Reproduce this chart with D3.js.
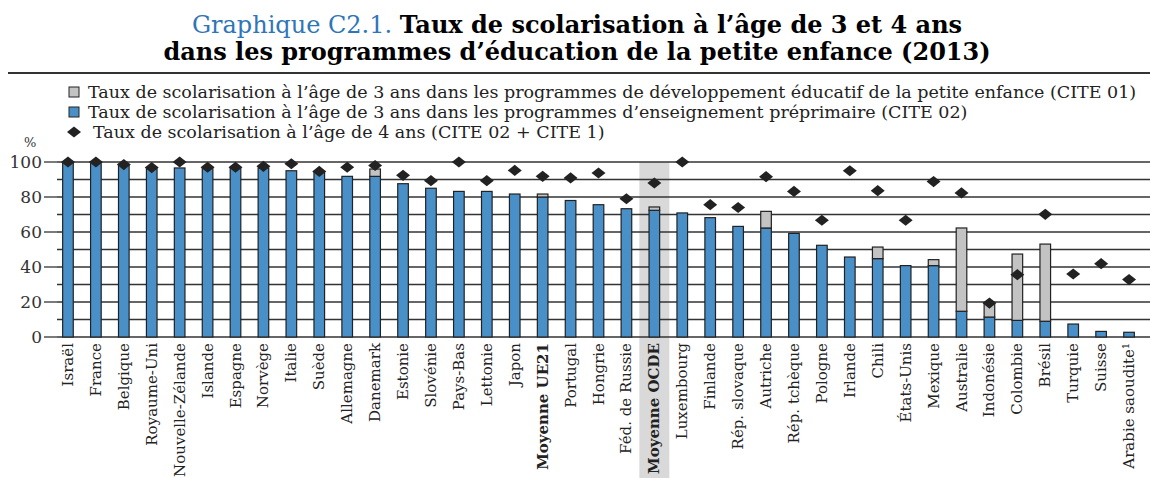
<!DOCTYPE html>
<html>
<head>
<meta charset="utf-8">
<script src="https://cdn.jsdelivr.net/npm/d3@7"></script>
<style>
  body { margin: 0; background: #fff; }
  svg { display: block; font-family: "DejaVu Serif", serif; }
</style>
</head>
<body>
<svg id="chart"></svg>
<script>
// values
const countries = ['Israël', 'France', 'Belgique', 'Royaume-Uni', 'Nouvelle-Zélande', 'Islande', 'Espagne', 'Norvège',
  'Italie', 'Suède', 'Allemagne', 'Danemark', 'Estonie', 'Slovénie', 'Pays-Bas', 'Lettonie', 'Japon', 'Moyenne UE21',
  'Portugal', 'Hongrie', 'Féd. de Russie', 'Moyenne OCDE', 'Luxembourg', 'Finlande', 'Rép. slovaque', 'Autriche',
  'Rép. tchèque', 'Pologne', 'Irlande', 'Chili', 'États-Unis', 'Mexique', 'Australie', 'Indonésie', 'Colombie',
  'Brésil', 'Turquie', 'Suisse', 'Arabie saoudite¹'];
// age 3, CITE 02 (blue)
const cite02 = [100, 100, 98.5, 96.2, 96.6, 96.6, 96.6, 96.6, 95, 94.6, 91.8, 91.8, 87.6, 85, 83.2, 83.2, 81.7, 80,
  78, 75.6, 73.3, 72.4, 70.9, 68.2, 63.2, 62.3, 59.2, 52.4, 45.7, 44.8, 40.8, 40.8, 14.7, 11.4, 9.5,
  9, 7.4, 3.2, 2.7];
// age 3, CITE 01 (grey, stacked on top)
const cite01 = [0, 0, 0, 0, 0, 0, 0, 0, 0, 0, 0, 4.2, 0, 0, 0, 0, 0, 1.7,
  0, 0, 0, 1.9, 0, 0, 0, 9.5, 0, 0, 0, 6.6, 0, 3.4, 47.6, 8, 37.9,
  44.1, 0, 0, 0];
// age 4 (diamonds)
const age4 = [100, 100, 98.5, 96.8, 100, 97, 97, 97.5, 99, 94.6, 97, 98, 92.4, 89.3, 100, 89.3, 95.2, 91.8,
  90.9, 93.7, 79, 88, 100, 75.6, 74, 91.6, 83.2, 66.7, 95, 83.6, 66.7, 88.8, 82.3, 19.4, 35.6,
  70.1, 36, 41.9, 32.8];
const yTicks = [0, 20, 40, 60, 80, 100];
const legendLabels = [
  'Taux de scolarisation à l’âge de 3 ans dans les programmes de développement éducatif de la petite enfance (CITE 01)',
  'Taux de scolarisation à l’âge de 3 ans dans les programmes d’enseignement préprimaire (CITE 02)',
  'Taux de scolarisation à l’âge de 4 ans (CITE 02 + CITE 1)'
];
const highlighted = ['Moyenne OCDE'];
const boldLabels = ['Moyenne UE21', 'Moyenne OCDE'];

const W = 1150, H = 478;
const blue = '#4a90c8', grey = '#c3c3c3', ink = '#222';

document.addEventListener('DOMContentLoaded', function () {
  const rows = countries.map((c, i) => ({ name: c, a: cite02[i], b: cite01[i], d: age4[i] }));

  const svg = d3.select('#chart').attr('width', W).attr('height', H);

  const x = d3.scaleBand().domain(countries).range([54, 1143]).paddingInner(0.62).paddingOuter(0.31);
  const y = d3.scaleLinear().domain([0, 100]).range([337, 162]);
  const bw = x.bandwidth();

  // title
  const title = svg.append('text').attr('text-anchor', 'middle').attr('font-size', 24);
  const l1 = title.append('tspan').attr('x', 577).attr('y', 33);
  l1.append('tspan').attr('fill', '#2f76b8').text('Graphique C2.1.  ');
  l1.append('tspan').attr('font-weight', 'bold').text('Taux de scolarisation à l’âge de 3  et 4 ans');
  title.append('tspan').attr('x', 577).attr('y', 60).attr('font-weight', 'bold')
    .text('dans les programmes d’éducation de la petite enfance (2013)');

  svg.append('line').attr('x1', 8).attr('x2', W).attr('y1', 73).attr('y2', 73)
    .attr('stroke', '#333').attr('stroke-width', 2);

  // legend
  const lg = svg.append('g').attr('font-size', 17.5).attr('fill', '#222');
  lg.append('rect').attr('x', 69).attr('y', 87).attr('width', 10).attr('height', 10)
    .attr('fill', grey).attr('stroke', ink);
  lg.append('rect').attr('x', 69).attr('y', 107).attr('width', 10).attr('height', 10)
    .attr('fill', blue).attr('stroke', ink);
  lg.append('path').attr('d', d3.symbol(d3.symbolSquare, 98)())
    .attr('transform', 'translate(74,132) scale(1,0.8) rotate(45)').attr('fill', ink);
  legendLabels.forEach((t, i) => {
    lg.append('text').attr('x', i == 2 ? 93 : 88).attr('y', 98 + i * 20).text(t);
  });

  // highlight band
  highlighted.forEach(h => {
    svg.append('rect').attr('x', x(h) + bw / 2 - 15).attr('y', y(100))
      .attr('width', 30).attr('height', H - y(100)).attr('fill', '#d9d9d9');
  });

  // gridlines every 10
  svg.append('g').selectAll('line').data(d3.range(0, 101, 10)).join('line')
    .attr('x1', 57).attr('x2', W).attr('y1', d => y(d)).attr('y2', d => y(d))
    .attr('stroke', '#333').attr('stroke-width', 1.3);

  // y axis labels & major ticks
  const ya = svg.append('g');
  ya.selectAll('line').data(yTicks).join('line')
    .attr('x1', 44).attr('x2', 57).attr('y1', d => y(d)).attr('y2', d => y(d))
    .attr('stroke', '#333').attr('stroke-width', 1.3);
  ya.selectAll('text').data(yTicks).join('text')
    .attr('x', 42).attr('y', d => y(d)).attr('dy', '0.35em').attr('text-anchor', 'end')
    .attr('font-size', 17).attr('fill', '#333').text(d => d);
  svg.append('text').attr('x', 24).attr('y', 147).attr('font-size', 13).attr('fill', '#333').text('%');

  // bars
  const bars = svg.append('g').attr('stroke', ink).attr('stroke-width', 1.2);
  bars.selectAll('.b02').data(rows).join('rect').attr('class', 'b02')
    .attr('x', d => x(d.name)).attr('width', bw)
    .attr('y', d => y(d.a)).attr('height', d => y(0) - y(d.a)).attr('fill', blue);
  bars.selectAll('.b01').data(rows.filter(d => d.b > 0)).join('rect').attr('class', 'b01')
    .attr('x', d => x(d.name)).attr('width', bw)
    .attr('y', d => y(d.a + d.b)).attr('height', d => y(d.a) - y(d.a + d.b)).attr('fill', grey);

  // diamonds
  svg.append('g').selectAll('path').data(rows).join('path')
    .attr('d', d3.symbol(d3.symbolSquare, 98)())
    .attr('transform', d => `translate(${x(d.name) + bw / 2},${y(d.d)}) scale(1,0.8) rotate(45)`)
    .attr('fill', ink);

  // x labels
  svg.append('g').selectAll('text').data(countries).join('text')
    .attr('transform', d => `translate(${x(d) + bw / 2 + 5},343) rotate(-90)`)
    .attr('text-anchor', 'end').attr('font-size', 15).attr('fill', '#222')
    .attr('font-weight', d => boldLabels.includes(d) ? 'bold' : null)
    .text(d => d);
});
</script>
</body>
</html>
